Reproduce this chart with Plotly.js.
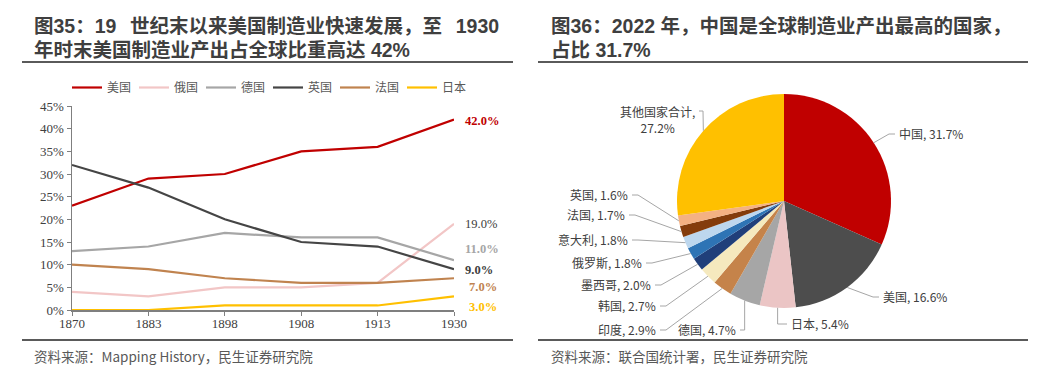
<!DOCTYPE html>
<html><head><meta charset="utf-8">
<script src="https://cdn.plot.ly/plotly-3.0.1.min.js"></script>
<style>html,body{margin:0;padding:0;background:#fff;} #chart{width:1039px;height:383px;}</style>
</head><body><div id="chart"></div>
<script>
// ---------- DATA ----------
const years = ['1870','1883','1898','1908','1913','1930'];
const lineNames = ['美国','俄国','德国','英国','法国','日本'];
const usa = [23,29,30,35,36,42];
const russia = [4,3,5,5,6,19];
const germany = [13,14,17,16,16,11];
const uk = [32,27,20,15,14,9];
const france = [10,9,7,6,6,7];
const japan = [0,0,1,1,1,3];

const pieLabels = ['中国','美国','日本','德国','印度','韩国','墨西哥','俄罗斯','意大利','法国','英国','其他国家合计'];
const pieValues = [31.7,16.6,5.4,4.7,2.9,2.7,2.0,1.8,1.8,1.7,1.6,27.2];

// ---------- STYLE / LAYOUT ----------
const W = 1039, H = 383;
const px = x => x / W;
const py = y => 1 - y / H;
const TXT = '#404040';
const CJK = '"Noto Sans CJK SC", "Noto Sans", sans-serif';
const TITLEF = '"Liberation Sans", "Noto Sans CJK SC", sans-serif';
const SERIF = '"Liberation Serif", "Times New Roman", serif';

const lineSeries = [usa, russia, germany, uk, france, japan];
const lineColors = ['#C00000', '#F2C6C6', '#A6A6A6', '#454545', '#C0834F', '#FFC000'];
// end-label styles: [color, bold, yshift(px), xshift(px), bracket]
const endStyle = [
  ['#C00000', true, -1.5, 9, false],
  ['#404040', false, 0, 9, false],
  ['#A6A6A6', true, 11, 9, false],
  ['#404040', true, -1, 9, false],
  ['#C0834F', true, -9, 13, true],
  ['#FFC000', true, -11, 13, true]
];

const traces = lineSeries.map((s, i) => ({
  type: 'scatter', mode: 'lines', x: years, y: s, name: lineNames[i],
  line: {color: lineColors[i], width: 2.2}, cliponaxis: false,
  xaxis: 'x', yaxis: 'y'
}));

const pieColors = ['#C00000','#4D4D4D','#EBC5C5','#A6A6A6','#C5834A','#F5E9BE','#203F7A','#2E74B5','#BDD7EE','#843C0C','#F4B183','#FFC000'];
const pieBox = {x0: 677, x1: 891, y0: 94, y1: 308};
traces.push({
  type: 'pie', values: pieValues, labels: pieLabels, sort: false, direction: 'clockwise',
  rotation: 0, textinfo: 'none', showlegend: false,
  marker: {colors: pieColors, line: {width: 0}},
  domain: {x: [px(pieBox.x0), px(pieBox.x1)], y: [py(pieBox.y1), py(pieBox.y0)]}
});

const annotations = [];
const shapes = [];

function addText(text, x, y, size, color, bold, family) {
  annotations.push({xref: 'paper', yref: 'paper', x: px(x), y: py(y), text: bold ? '<b>' + text + '</b>' : text,
    showarrow: false, xanchor: 'left', yanchor: 'middle', align: 'left',
    font: {family: family || CJK, size: size, color: color}});
}
// titles (two lines each)
addText('图35：19\u2002\u2009世纪末以来美国制造业快速发展，至\u2002\u20091930', 32, 26, 19.5, '#3F3F3F', true, TITLEF);
addText('年时末美国制造业产出占全球比重高达 42%', 32, 50, 19.5, '#3F3F3F', true, TITLEF);
addText('图36：2022 年，中国是全球制造业产出最高的国家，', 549, 26, 19.5, '#3F3F3F', true, TITLEF);
addText('占比 31.7%', 549, 50, 19.5, '#3F3F3F', true, TITLEF);
addText('资料来源：Mapping History，民生证券研究院', 32, 356, 13.5, '#595959', false);
addText('资料来源：联合国统计署，民生证券研究院', 549, 356, 13.5, '#595959', false);

// title / source rules
[[22, 513, 62], [538, 1028, 62], [22, 513, 340], [538, 1028, 340]].forEach(r => {
  shapes.push({type: 'line', xref: 'paper', yref: 'paper', x0: px(r[0]), x1: px(r[1]), y0: py(r[2]), y1: py(r[2]),
    line: {color: '#5A5A5A', width: 2}});
});

// line end labels
lineSeries.forEach((s, i) => {
  const st = endStyle[i];
  const v = s[s.length - 1];
  const t = v.toFixed(1) + '%';
  annotations.push({xref: 'x', yref: 'y', x: years.length - 1, y: v, text: st[1] ? '<b>' + t + '</b>' : t,
    showarrow: false, xanchor: 'left', yanchor: 'middle', xshift: st[3], yshift: st[2],
    font: {family: SERIF, size: 12.5, color: st[0]}});
  if (st[4]) {
    shapes.push({type: 'path', xref: 'x', yref: 'y', xsizemode: 'pixel', ysizemode: 'pixel',
      xanchor: years.length - 1, yanchor: v,
      path: 'M 1 ' + (st[2] + 5) + ' L 1 ' + (st[2] - 1) + ' L 8 ' + (st[2] - 1),
      line: {color: '#A6A6A6', width: 1}});
  }
});

// pie labels with leader lines computed from slice angles
const cx = (pieBox.x0 + pieBox.x1) / 2, cy = (pieBox.y0 + pieBox.y1) / 2, R = (pieBox.x1 - pieBox.x0) / 2;
const total = pieValues.reduce((a, b) => a + b, 0);
// label placement: [textX, textY, anchor, leaderType]
const labelPlace = [
  [897, 133, 'left', 'diag'],
  [881, 296, 'left', 'diag'],
  [789, 323, 'left', 'vert'],
  [738, 329, 'right', 'vert'],
  [658, 329, 'right', 'diag'],
  [658, 305, 'right', 'diag'],
  [653, 284, 'right', 'diag'],
  [644, 262, 'right', 'diag'],
  [630, 239, 'right', 'diag'],
  [627, 214, 'right', 'diag'],
  [630, 194, 'right', 'diag'],
  [697, 119, 'right', 'multi']
];
let cum = 0;
pieValues.forEach((v, i) => {
  const mid = (cum + v / 2) / total * 2 * Math.PI;
  cum += v;
  const ex = cx + R * Math.sin(mid), ey = cy - R * Math.cos(mid);
  const [tx, ty, anc, kind] = labelPlace[i];
  const dir = anc === 'left' ? -1 : 1;
  let text = pieLabels[i] + ', ' + v.toFixed(1) + '%';
  let pts;
  if (kind === 'multi') {
    text = pieLabels[i] + ',<br>' + v.toFixed(1) + '%';
    const ly = ty - 8;
    pts = [[tx + 2, ly], [tx + 6, ly], [ex, ey]];
  } else if (kind === 'vert') {
    pts = [[tx + 2 * dir, ty + 1], [ex, ty + 1], [ex, ey]];
  } else {
    pts = [[tx + 2 * dir, ty + 1], [tx + 8 * dir, ty + 1], [ex, ey]];
  }
  shapes.push({type: 'path', xref: 'paper', yref: 'paper',
    path: 'M ' + pts.map(p => px(p[0]) + ' ' + py(p[1])).join(' L '),
    line: {color: '#A6A6A6', width: 1}});
  annotations.push({xref: 'paper', yref: 'paper', x: px(tx), y: py(ty), text: text, showarrow: false,
    xanchor: anc, yanchor: 'middle', align: 'center',
    font: {family: CJK, size: 12, color: TXT}});
});

const layout = {
  width: W, height: H, margin: {l: 0, r: 0, t: 0, b: 0},
  paper_bgcolor: '#fff', plot_bgcolor: '#fff',
  showlegend: true,
  legend: {orientation: 'h', x: px(67), y: py(73), xanchor: 'left', yanchor: 'top',
    font: {family: CJK, size: 12, color: '#595959'}, itemwidth: 30,
    entrywidth: 22, entrywidthmode: 'pixels', traceorder: 'normal', bgcolor: 'rgba(0,0,0,0)'},
  xaxis: {type: 'category', domain: [px(72), px(454)], range: [0, years.length - 1],
    showgrid: false, zeroline: false, showline: true, linecolor: '#7F7F7F', linewidth: 1.5,
    ticks: 'outside', ticklen: 4, tickcolor: '#7F7F7F', tickwidth: 1, ticklabelstandoff: -3,
    tickfont: {family: SERIF, size: 13, color: TXT}, anchor: 'y', fixedrange: true},
  yaxis: {domain: [py(310), py(106)], range: [0, 45], dtick: 5, ticksuffix: '%',
    showgrid: false, zeroline: false, showline: true, linecolor: '#7F7F7F', linewidth: 1.5,
    ticks: 'outside', ticklen: 4, tickcolor: '#7F7F7F', tickwidth: 1,
    tickfont: {family: SERIF, size: 13, color: TXT}, anchor: 'x', fixedrange: true},
  annotations: annotations,
  shapes: shapes
};

Plotly.newPlot('chart', traces, layout, {staticPlot: true});
</script>
</body></html>
